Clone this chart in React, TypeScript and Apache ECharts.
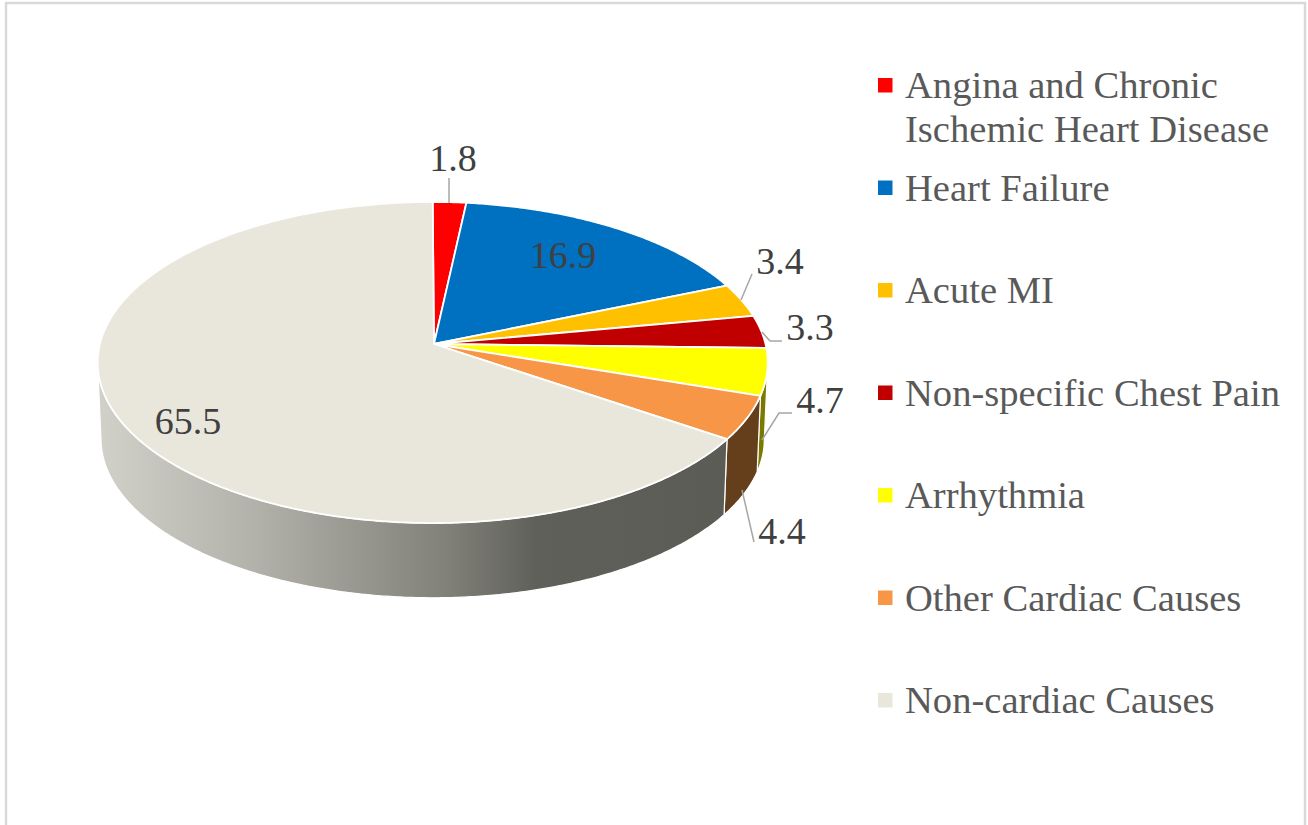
import React, { useEffect, useRef } from "react";
import * as echarts from "echarts";

const categories = [
  "Angina and Chronic\nIschemic Heart Disease",
  "Heart Failure",
  "Acute MI",
  "Non-specific Chest Pain",
  "Arrhythmia",
  "Other Cardiac Causes",
  "Non-cardiac Causes",
];
const values = [1.8, 16.9, 3.4, 3.3, 4.7, 4.4, 65.5];
const colors = ["#ff0000", "#0070c0", "#ffc000", "#c00000", "#ffff00", "#f79646", "#e9e7dc"];
const FONT = '"Liberation Serif", serif';

// perspective disc geometry
const APEX_X = 434, CX = 432.7, CY = 344, R = 332.8, S = 158.4, K = 0.1153;
const DEPTH = 76.5, BOTTOM_SCALE = 0.99;
const WALL_FROM = 99, WALL_TO = 262; // visible part of the rim, degrees clockwise from 12 o'clock

const total = values.reduce((a, b) => a + b, 0);
const starts: number[] = [];
values.reduce((acc, v, i) => { starts[i] = acc; return acc + v; }, 0);
const toDeg = (v: number) => (v / total) * 360;

function top(deg: number): [number, number] {
  const t = (deg * Math.PI) / 180;
  const u = Math.sin(t), v = -Math.cos(t), w = 1 - K * v;
  return [CX + (R * u) / w, CY + (S * v) / w];
}
function bottom(deg: number): [number, number] {
  const [x, y] = top(deg);
  return [CX + (x - CX) * BOTTOM_SCALE, CY + (y - CY) * BOTTOM_SCALE + DEPTH];
}
function arc(a: number, b: number, f: (d: number) => [number, number]) {
  const n = Math.max(2, Math.ceil(Math.abs(b - a) * 2));
  const pts: [number, number][] = [];
  for (let i = 0; i <= n; i++) pts.push(f(a + ((b - a) * i) / n));
  return pts;
}

const wallFills: any[] = [
  null, null, null, null,
  "#7a7a00",
  "#653e1c",
  {
    type: "linear", x: 98, y: 0, x2: 725, y2: 0, global: true,
    colorStops: [
      { offset: 0, color: "#d2d1c9" },
      { offset: 0.25, color: "#b3b2aa" },
      { offset: 0.55, color: "#82827a" },
      { offset: 0.7, color: "#5f605a" },
      { offset: 1, color: "#5b5c55" },
    ],
  },
];

const labelAt: [number, number][] = [
  [453, 157.5], [563, 255], [780, 261], [810, 327], [820, 400], [782, 531], [188, 421],
];
const leaders: [number, number][][] = [
  [[449, 178], [449, 203]],
  [],
  [[752, 274], [741, 300]],
  [[782, 341], [770, 341], [762, 332]],
  [[792, 413], [779, 413], [762, 440]],
  [[754, 542], [742, 490]],
  [],
];

const data = values.map((v, i) => ({ name: categories[i].replace("\n", " "), value: v }));

function renderWall(params: any) {
  const i = params.dataIndex;
  const a = Math.max(toDeg(starts[i]), WALL_FROM);
  const b = Math.min(toDeg(starts[i] + values[i]), WALL_TO);
  if (b <= a || !wallFills[i]) return { type: "group", children: [] };
  const pts = [...arc(a, b, top), ...arc(b, a, bottom)];
  return {
    type: "polygon",
    shape: { points: pts },
    style: { fill: wallFills[i], stroke: "#ffffff", lineWidth: 1.2, lineJoin: "round" },
  };
}
function renderTop(params: any) {
  const i = params.dataIndex;
  const a = toDeg(starts[i]);
  const b = toDeg(starts[i] + values[i]);
  const pts = [[APEX_X, CY], ...arc(a, b, top)];
  return {
    type: "polygon",
    shape: { points: pts },
    style: { fill: colors[i], stroke: "#ffffff", lineWidth: 1.8, lineJoin: "round" },
  };
}
function renderLabel(params: any, api: any) {
  const i = params.dataIndex;
  const children: any[] = [];
  if (leaders[i].length) {
    children.push({
      type: "polyline",
      shape: { points: leaders[i] },
      style: { fill: "none", stroke: "#a6a6a6", lineWidth: 1.5 },
    });
  }
  children.push({
    type: "text",
    style: {
      text: Number(api.value(0)).toFixed(1),
      x: labelAt[i][0],
      y: labelAt[i][1],
      align: "center",
      verticalAlign: "middle",
      font: `38px ${FONT}`,
      fill: "#404040",
    },
  });
  return { type: "group", children };
}

const legendRowY = (i: number) => 85 + 102.5 * i;

export default function App() {
  const ref = useRef<HTMLDivElement>(null);
  useEffect(() => {
    const chart = echarts.init(ref.current!, undefined, { renderer: "svg" });
    const legendItems: any[] = [];
    categories.forEach((c, i) => {
      const y = legendRowY(i);
      legendItems.push({
        type: "rect",
        shape: { x: 878, y: y - 7, width: 14.5, height: 14.5 },
        style: { fill: colors[i] },
      });
      legendItems.push({
        type: "text",
        style: {
          text: c,
          x: 905,
          y: y - 22,
          align: "left",
          verticalAlign: "top",
          font: `38.6px ${FONT}`,
          lineHeight: 44,
          fill: "#595959",
        },
      });
    });
    chart.setOption({
      animation: false,
      backgroundColor: "#ffffff",
      graphic: [
        {
          type: "polyline",
          shape: { points: [[6, 825], [6, 3], [1305, 3], [1305, 825]] },
          style: { fill: "none", stroke: "#d9d9d9", lineWidth: 2.5 },
        },
        ...legendItems,
      ],
      series: [
        { type: "custom", coordinateSystem: "none", silent: true, renderItem: renderWall, data, z: 1 },
        { type: "custom", coordinateSystem: "none", silent: true, renderItem: renderTop, data, z: 2 },
        { type: "custom", coordinateSystem: "none", silent: true, renderItem: renderLabel, data, z: 3 },
      ],
    });
    return () => chart.dispose();
  }, []);
  return <div ref={ref} style={{ position: "fixed", left: 0, top: 0, width: 1308, height: 825 }} />;
}
